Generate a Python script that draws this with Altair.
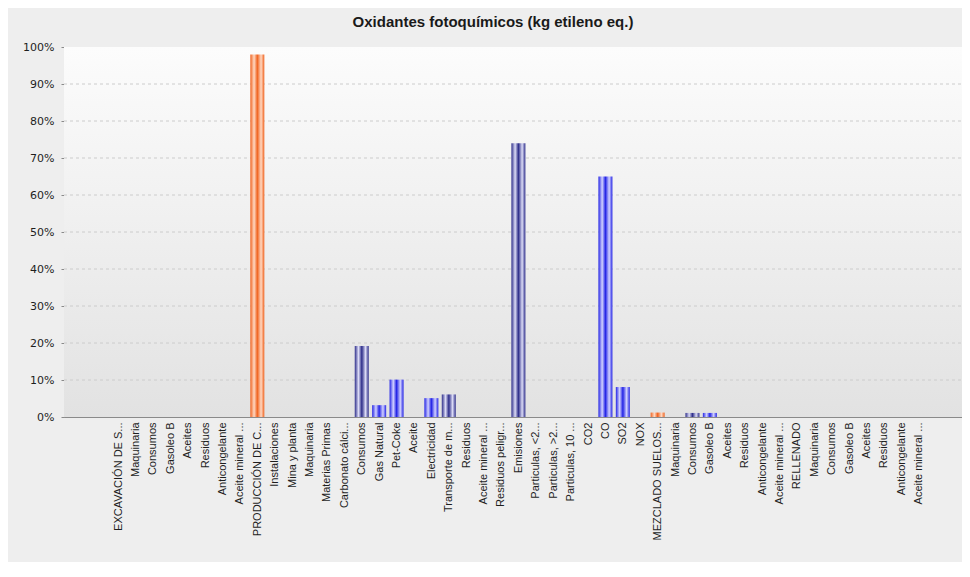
import json
import altair as alt
import pandas as pd

# ---- data ----
labels = [
    "EXCAVACIÓN DE S...", "Maquinaria", "Consumos", "Gasoleo B", "Aceites", "Residuos",
    "Anticongelante", "Aceite mineral ...", "PRODUCCIÓN DE C...", "Instalaciones",
    "Mina y planta", "Maquinaria", "Materias Primas", "Carbonato cálci...", "Consumos",
    "Gas Natural", "Pet-Coke", "Aceite", "Electricidad", "Transporte de m...", "Residuos",
    "Aceite mineral ...", "Residuos peligr...", "Emisiones", "Particulas, <2...",
    "Particulas, >2...", "Particulas, 10 ...", "CO2", "CO", "SO2", "NOX",
    "MEZCLADO SUELOS...", "Maquinaria", "Consumos", "Gasoleo B", "Aceites", "Residuos",
    "Anticongelante", "Aceite mineral ...", "RELLENADO", "Maquinaria", "Consumos",
    "Gasoleo B", "Aceites", "Residuos", "Anticongelante", "Aceite mineral ...",
]
values = [
    0, 0, 0, 0, 0, 0, 0, 0, 98.0, 0,
    0, 0, 0, 0, 19.2, 3.2, 10.1, 0, 5.1, 6.1,
    0, 0, 0, 74.0, 0, 0, 0, 0, 65.0, 8.1,
    0, 1.2, 0, 1.1, 1.1, 0, 0, 0, 0, 0,
    0, 0, 0, 0, 0, 0, 0,
]
tipos = [
    "proceso", "grupo", "grupo", "flujo", "flujo", "grupo", "flujo", "flujo", "proceso", "grupo",
    "grupo", "grupo", "grupo", "flujo", "grupo", "flujo", "flujo", "flujo", "flujo", "grupo",
    "grupo", "flujo", "flujo", "grupo", "flujo", "flujo", "flujo", "flujo", "flujo", "flujo",
    "flujo", "proceso", "grupo", "grupo", "flujo", "flujo", "grupo", "flujo", "flujo", "proceso",
    "grupo", "grupo", "flujo", "flujo", "grupo", "flujo", "flujo",
]
y_ticks = [i / 10 for i in range(11)]

df = pd.DataFrame({
    "idx": list(range(1, len(labels) + 1)),
    "etiqueta": labels,
    "valor": [v / 100 for v in values],
    "tipo": tipos,
})


def grad(dark, light):
    return alt.LinearGradient(
        gradient="linear", x1=0, x2=1, y1=0, y2=0,
        stops=[
            alt.GradientStop(color=dark, offset=0),
            alt.GradientStop(color=light, offset=0.27),
            alt.GradientStop(color=dark, offset=0.5),
            alt.GradientStop(color=light, offset=0.77),
            alt.GradientStop(color=dark, offset=1),
        ],
    )


palette = {
    "proceso": grad("#f0631f", "#ffd8c2"),
    "grupo": grad("#2e2e8a", "#dcdcf6"),
    "flujo": grad("#2323e6", "#d2d2ff"),
}

label_js = json.dumps(labels, ensure_ascii=False)

x_scale = alt.Scale(domain=[-1.82, 49.2], nice=False, zero=False)
y_scale = alt.Scale(domain=[0, 1], nice=False, zero=True)

x_axis = alt.Axis(
    title=None, values=list(range(1, len(labels) + 1)),
    labelExpr=f"{label_js}[datum.value - 1]",
    labelAngle=-90, labelAlign="right", labelBaseline="middle",
    labelFont="Liberation Sans", labelFontSize=11, labelColor="#1e1e1e",
    labelPadding=5, ticks=False, grid=False, domainColor="#8a8a8a",
    labelOverlap=False, labelBound=False, labelFlush=False,
)
y_axis = alt.Axis(
    title=None, format=".0%", values=y_ticks,
    labelFont="DejaVu Sans", labelFontSize=11, labelColor="#1e1e1e",
    tickSize=3, tickColor="#8a8a8a", labelPadding=7, domainColor="#8a8a8a",
    grid=False, labelOverlap=False, labelFlush=False,
)

# plot-area background gradient (decoration spanning the whole y domain)
bg = alt.Chart(pd.DataFrame({"a": [0]})).mark_rect(
    color=alt.LinearGradient(
        gradient="linear", x1=0, x2=0, y1=0, y2=1,
        stops=[
            alt.GradientStop(color="#fcfcfc", offset=0),
            alt.GradientStop(color="#e2e2e2", offset=1),
        ],
    )
).encode(
    x=alt.value(0), x2=alt.value("width"),
    y=alt.YDatum(1, scale=y_scale, axis=y_axis), y2=alt.Y2Datum(0),
)

# dashed horizontal grid lines
grid = alt.Chart(pd.DataFrame({"t": y_ticks[1:-1]})).mark_rule(
    color="#cccccc", strokeDash=[3, 3], strokeWidth=1
).encode(
    y=alt.Y("t:Q", scale=y_scale, axis=y_axis),
    x=alt.value(0), x2=alt.value("width"),
)

base = alt.Chart(df).encode(
    x=alt.X("idx:Q", scale=x_scale, axis=x_axis),
    y=alt.Y("valor:Q", scale=y_scale, axis=y_axis),
)

layers = [bg, grid]
for t, g in palette.items():
    layers.append(
        base.transform_filter(alt.datum.tipo == t)
        .mark_bar(size=14, color=g, orient="vertical")
    )

chart = (
    alt.layer(*layers)
    .properties(
        width=898, height=370,
        autosize=alt.AutoSizeParams(type="none"),
        padding={"left": 56, "top": 39, "right": 0, "bottom": 145},
        background="#eeeeee",
        title=alt.TitleParams(
            "Oxidantes fotoquímicos (kg etileno eq.)",
            font="Liberation Sans", fontSize=15, fontWeight="bold", color="#1a1a1a",
            anchor="middle", dx=-20, dy=7, offset=3, baseline="bottom",
        ),
    )
    .configure_view(stroke="#9a9a9a")
)

chart.save("out.html", embed_options={"renderer": "svg", "actions": False})
